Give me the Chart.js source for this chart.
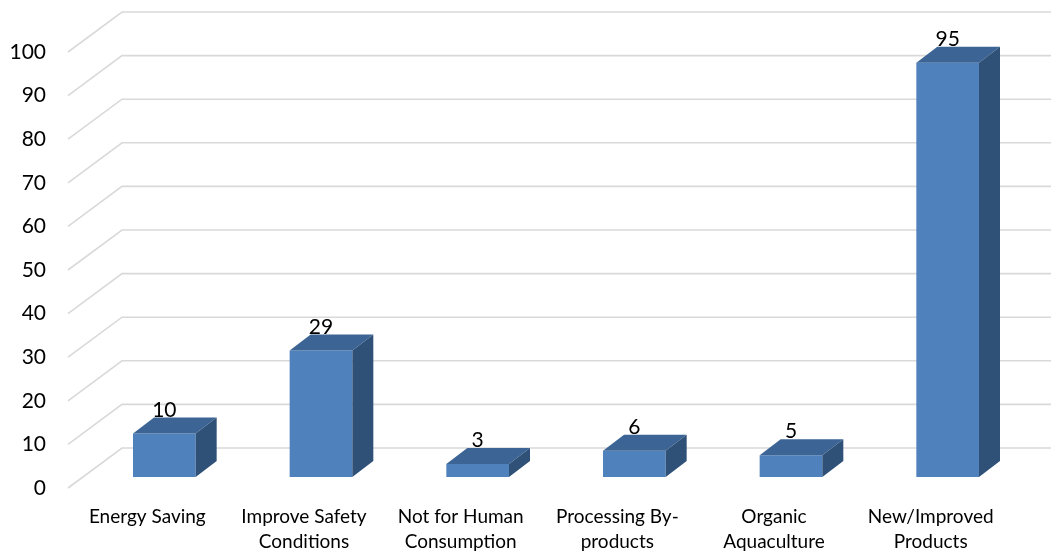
<!DOCTYPE html>
<html>
<head>
<meta charset="utf-8">
<script src="https://cdn.jsdelivr.net/npm/chart.js@4/dist/chart.umd.min.js"></script>
<style>
  html, body { margin: 0; padding: 0; background: #fff; }
  #wrap { width: 1051px; height: 552px; }
</style>
</head>
<body>
<div id="wrap"><canvas id="chart" width="1051" height="552"></canvas></div>
<script>
const categories = [
  'Energy Saving',
  ['Improve Safety', 'Conditions'],
  ['Not for Human', 'Consumption'],
  ['Processing By-', 'products'],
  ['Organic', 'Aquaculture'],
  ['New/Improved', 'Products']
];
const values = [10, 29, 3, 6, 5, 95];
const yMax = 100;
const yStep = 10;

// 3d look: bar depth and back wall offset (pixels)
const barDepth = { dx: 21, dy: -16 };
const wallBack = { dx: 54, dy: -40 };

const gridPlugin = {
  id: 'wall3d',
  beforeDatasetsDraw(chart) {
    const ctx = chart.ctx;
    const y = chart.scales.y;
    const x0 = 68;
    ctx.save();
    ctx.strokeStyle = '#d9d9d9';
    ctx.lineWidth = 1.6;
    for (let v = 0; v <= yMax; v += yStep) {
      const front = y.getPixelForValue(v) + 11;
      const back = front + wallBack.dy;
      ctx.beginPath();
      ctx.moveTo(x0, front);
      ctx.lineTo(x0 + wallBack.dx, back);
      ctx.lineTo(chart.width, back);
      ctx.stroke();
    }
    ctx.restore();
  },
  afterDatasetsDraw(chart) {
    const ctx = chart.ctx;
    const meta = chart.getDatasetMeta(0);
    ctx.save();
    meta.data.forEach((bar, i) => {
      const p = bar.getProps(['x', 'y', 'base', 'width'], true);
      const l = p.x - p.width / 2, r = p.x + p.width / 2;
      const t = p.y, b = p.base;
      // top face
      ctx.fillStyle = '#3c6494';
      ctx.beginPath();
      ctx.moveTo(l, t);
      ctx.lineTo(l + barDepth.dx, t + barDepth.dy);
      ctx.lineTo(r + barDepth.dx, t + barDepth.dy);
      ctx.lineTo(r, t);
      ctx.closePath();
      ctx.fill();
      // side face
      ctx.fillStyle = '#2f5178';
      ctx.beginPath();
      ctx.moveTo(r, t);
      ctx.lineTo(r + barDepth.dx, t + barDepth.dy);
      ctx.lineTo(r + barDepth.dx, b + barDepth.dy);
      ctx.lineTo(r, b);
      ctx.closePath();
      ctx.fill();
      // value label
      ctx.fillStyle = '#000';
      ctx.font = '21px Lato';
      ctx.textAlign = 'center';
      ctx.textBaseline = 'bottom';
      ctx.fillText(String(values[i]), p.x, t + barDepth.dy + 3);
    });
    ctx.restore();
  }
};

new Chart(document.getElementById('chart'), {
  type: 'bar',
  data: {
    labels: categories,
    datasets: [{
      data: values,
      backgroundColor: '#4f81bd',
      borderWidth: 0,
      barPercentage: 0.4,
      categoryPercentage: 1
    }]
  },
  options: {
    responsive: false,
    animation: false,
    events: [],
    layout: { padding: { top: 41, right: 25, left: 0, bottom: 0 } },
    plugins: { legend: { display: false }, tooltip: { enabled: false } },
    scales: {
      x: {
        offset: true,
        grid: { display: false, drawTicks: false },
        border: { display: false },
        ticks: {
          color: '#000',
          font: { family: 'Lato', size: 19, lineHeight: 1.32 },
          padding: 27,
          labelOffset: -17,
          maxRotation: 0,
          autoSkip: false
        },
        afterFit(scale) { scale.height = 75; scale.paddingLeft = 0; scale.paddingRight = 0; }
      },
      y: {
        min: 0,
        max: yMax,
        grid: { display: false, drawTicks: false },
        border: { display: false },
        ticks: {
          stepSize: yStep,
          color: '#000',
          font: { family: 'Lato', size: 21 },
          padding: 40,
          labelOffset: 11
        },
        afterFit(scale) { scale.width = 86; scale.paddingTop = 0; scale.paddingBottom = 0; }
      }
    }
  },
  plugins: [gridPlugin]
});
</script>
</body>
</html>
